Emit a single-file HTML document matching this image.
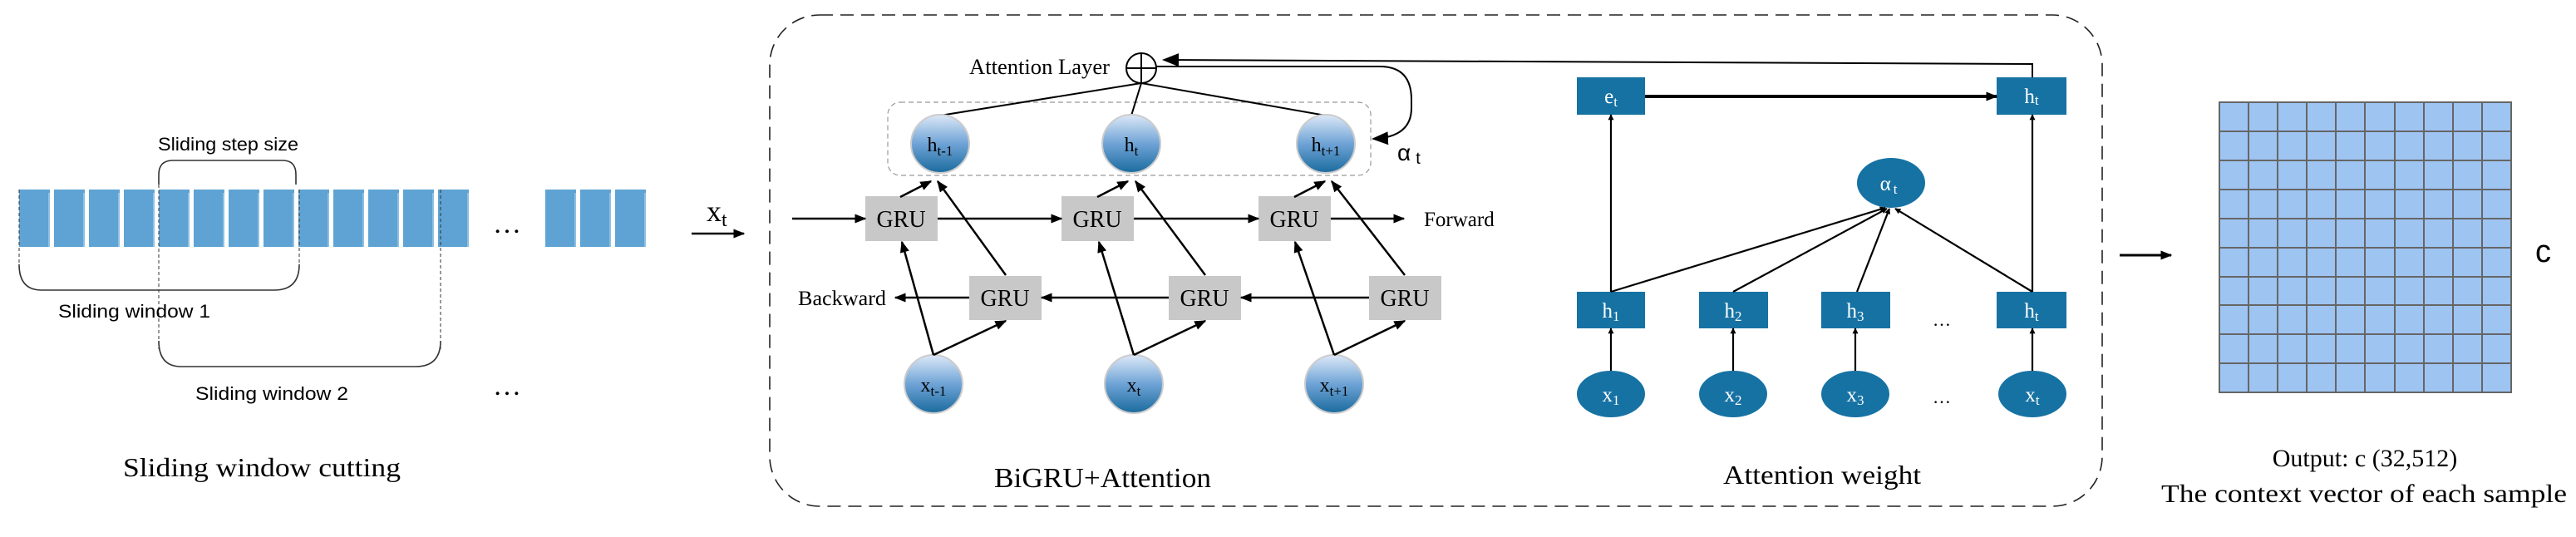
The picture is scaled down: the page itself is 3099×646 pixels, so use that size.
<!DOCTYPE html>
<html><head><meta charset="utf-8"><style>
html,body{margin:0;padding:0;background:#fff;}
svg{display:block;}
.sr{font-family:"Liberation Serif",serif;}
.ss{font-family:"Liberation Sans",sans-serif;}
</style></head><body>
<svg width="3099" height="646" viewBox="0 0 3099 646" xmlns="http://www.w3.org/2000/svg">
<defs>
<linearGradient id="cg" x1="0" y1="0" x2="0" y2="1">
<stop offset="0" stop-color="#dce8f7"/><stop offset="0.5" stop-color="#6fa3d6"/><stop offset="1" stop-color="#1a6b9e"/>
</linearGradient>
<marker id="ah" viewBox="0 0 10 10" refX="9" refY="5" markerWidth="7" markerHeight="7" orient="auto" markerUnits="userSpaceOnUse"><path d="M0,0 L10,5 L0,10 z" fill="#000"/></marker>
<marker id="a2" viewBox="0 0 10 10" refX="9" refY="5" markerWidth="20" markerHeight="20" orient="auto" markerUnits="userSpaceOnUse"><path d="M0,1 L10,5 L0,9 z" fill="#000"/></marker>
<marker id="a3" viewBox="0 0 10 10" refX="9" refY="5" markerWidth="14" markerHeight="14" orient="auto" markerUnits="userSpaceOnUse"><path d="M0,1 L10,5 L0,9 z" fill="#000"/></marker>
</defs>

<g fill="#5ea3d3">
<rect x="23" y="228" width="37" height="69"/><rect x="65" y="228" width="37" height="69"/><rect x="107" y="228" width="37" height="69"/><rect x="149" y="228" width="37" height="69"/><rect x="191" y="228" width="37" height="69"/><rect x="233" y="228" width="37" height="69"/><rect x="275" y="228" width="37" height="69"/><rect x="317" y="228" width="37" height="69"/><rect x="359" y="228" width="37" height="69"/><rect x="401" y="228" width="37" height="69"/><rect x="443" y="228" width="37" height="69"/><rect x="485" y="228" width="37" height="69"/><rect x="527" y="228" width="37" height="69"/>
<rect x="656" y="228" width="37" height="69"/><rect x="698" y="228" width="37" height="69"/><rect x="740" y="228" width="37" height="69"/>
</g>
<g fill="#8fc0e3">
<rect x="58" y="232" width="2" height="65"/><rect x="100" y="232" width="2" height="65"/><rect x="142" y="232" width="2" height="65"/><rect x="184" y="232" width="2" height="65"/><rect x="226" y="232" width="2" height="65"/><rect x="268" y="232" width="2" height="65"/><rect x="310" y="232" width="2" height="65"/><rect x="352" y="232" width="2" height="65"/><rect x="394" y="232" width="2" height="65"/><rect x="436" y="232" width="2" height="65"/><rect x="478" y="232" width="2" height="65"/><rect x="520" y="232" width="2" height="65"/><rect x="562" y="232" width="2" height="65"/><rect x="691" y="232" width="2" height="65"/><rect x="733" y="232" width="2" height="65"/><rect x="775" y="232" width="2" height="65"/>
</g>
<text x="593" y="280" class="sr" font-size="34">…</text>
<g fill="none" stroke="#333" stroke-width="1" stroke-dasharray="4,3">
<line x1="23" y1="228" x2="23" y2="320"/><line x1="191" y1="222" x2="191" y2="420"/><line x1="360" y1="228" x2="360" y2="320"/><line x1="530" y1="228" x2="530" y2="420"/>
</g>
<g fill="none" stroke="#333" stroke-width="1.6">
<path d="M191,222 L191,210 Q191,193 208,193 L340,193 Q356,193 356,210 L356,222"/>
<path d="M23,318 Q23,349 50,349 L330,349 Q360,349 360,318"/>
<path d="M191,410 Q191,441 218,441 L500,441 Q530,441 530,410"/>
</g>
<text x="190" y="181" class="ss" font-size="22" textLength="169" lengthAdjust="spacingAndGlyphs">Sliding step size</text>
<text x="70" y="382" class="ss" font-size="22" textLength="183" lengthAdjust="spacingAndGlyphs">Sliding window 1</text>
<text x="235" y="481" class="ss" font-size="22" textLength="184" lengthAdjust="spacingAndGlyphs">Sliding window 2</text>
<text x="593" y="475" class="sr" font-size="34">…</text>
<text x="148" y="573" class="sr" font-size="32" textLength="334" lengthAdjust="spacingAndGlyphs">Sliding window cutting</text>

<text x="850" y="266" class="sr" font-size="36">x<tspan font-size="24" dy="6">t</tspan></text>
<line x1="832" y1="281" x2="895" y2="281" stroke="#000" stroke-width="2.5" marker-end="url(#a3)"/>

<rect x="926" y="18" width="1603" height="591" rx="60" ry="60" fill="none" stroke="#222" stroke-width="1.6" stroke-dasharray="16,9"/>

<text x="1166" y="89" class="sr" font-size="26" textLength="169" lengthAdjust="spacingAndGlyphs">Attention Layer</text>
<circle cx="1373" cy="82" r="18" fill="none" stroke="#000" stroke-width="2"/>
<line x1="1355" y1="82" x2="1391" y2="82" stroke="#000" stroke-width="2"/>
<line x1="1373" y1="64" x2="1373" y2="100" stroke="#000" stroke-width="2"/>
<path d="M1391,80 L1660,80 Q1698,80 1698,120 L1698,130 Q1698,165 1652,167" fill="none" stroke="#000" stroke-width="2" marker-end="url(#a2)"/>
<text x="1681" y="193" class="ss" font-size="28">α<tspan font-size="20" dx="6" dy="4">t</tspan></text>
<rect x="1068" y="123" width="581" height="88" rx="15" fill="none" stroke="#999" stroke-width="1.2" stroke-dasharray="6,4"/>
<g stroke="#000" stroke-width="2">
<line x1="1373" y1="100" x2="1131" y2="139"/><line x1="1373" y1="100" x2="1361" y2="139"/><line x1="1373" y1="100" x2="1595" y2="139"/>
</g>
<g fill="url(#cg)" stroke="#ccc" stroke-width="2">
<circle cx="1131" cy="173" r="35"/><circle cx="1361" cy="173" r="35"/><circle cx="1595" cy="173" r="35"/>
<circle cx="1123" cy="462" r="35"/><circle cx="1364" cy="462" r="35"/><circle cx="1605" cy="462" r="35"/>
</g>
<g class="sr" font-size="24" fill="#000" text-anchor="middle">
<text x="1131" y="182">h<tspan font-size="17" dy="5">t-1</tspan></text>
<text x="1361" y="182">h<tspan font-size="17" dy="5">t</tspan></text>
<text x="1595" y="182">h<tspan font-size="17" dy="5">t+1</tspan></text>
<text x="1123" y="471">x<tspan font-size="17" dy="5">t-1</tspan></text>
<text x="1364" y="471">x<tspan font-size="17" dy="5">t</tspan></text>
<text x="1605" y="471">x<tspan font-size="17" dy="5">t+1</tspan></text>
</g>
<g fill="#c8c8c8">
<rect x="1041" y="236" width="87" height="54"/><rect x="1277" y="236" width="87" height="54"/><rect x="1514" y="236" width="87" height="54"/>
<rect x="1166" y="332" width="87" height="53"/><rect x="1406" y="332" width="87" height="53"/><rect x="1647" y="332" width="87" height="53"/>
</g>
<g class="sr" font-size="28" text-anchor="middle" fill="#000">
<text x="1084" y="273">GRU</text><text x="1320" y="273">GRU</text><text x="1557" y="273">GRU</text>
<text x="1209" y="368">GRU</text><text x="1449" y="368">GRU</text><text x="1690" y="368">GRU</text>
</g>
<g stroke="#000" stroke-width="2.5" fill="none" marker-end="url(#a3)">
<line x1="953" y1="263" x2="1041" y2="263"/><line x1="1128" y1="263" x2="1277" y2="263"/><line x1="1364" y1="263" x2="1514" y2="263"/><line x1="1601" y1="263" x2="1689" y2="263"/>
<line x1="1166" y1="358" x2="1077" y2="358"/><line x1="1406" y1="358" x2="1253" y2="358"/><line x1="1647" y1="358" x2="1493" y2="358"/>
</g>
<text x="1713" y="272" class="sr" font-size="25">Forward</text>
<text x="960" y="367" class="sr" font-size="25" textLength="106" lengthAdjust="spacingAndGlyphs">Backward</text>
<g stroke="#000" stroke-width="2.5" fill="none" marker-end="url(#a3)">
<line x1="1123" y1="427" x2="1085" y2="291"/><line x1="1123" y1="427" x2="1210" y2="386"/>
<line x1="1364" y1="427" x2="1322" y2="291"/><line x1="1364" y1="427" x2="1450" y2="386"/>
<line x1="1605" y1="427" x2="1558" y2="291"/><line x1="1605" y1="427" x2="1690" y2="386"/>
<line x1="1083" y1="237" x2="1120" y2="218"/><line x1="1210" y1="331" x2="1128" y2="218"/>
<line x1="1320" y1="237" x2="1357" y2="218"/><line x1="1450" y1="331" x2="1366" y2="218"/>
<line x1="1557" y1="237" x2="1594" y2="218"/><line x1="1690" y1="331" x2="1602" y2="218"/>
</g>
<text x="1196" y="586" class="sr" font-size="34" textLength="261" lengthAdjust="spacingAndGlyphs">BiGRU+Attention</text>

<path d="M2445,93 L2445,77 L1400,72" fill="none" stroke="#000" stroke-width="2" marker-end="url(#a2)"/>
<g fill="#1672a3">
<rect x="1897" y="93" width="82" height="45"/><rect x="2402" y="93" width="84" height="45"/>
<rect x="1897" y="351" width="82" height="44"/><rect x="2044" y="351" width="83" height="44"/><rect x="2191" y="351" width="83" height="44"/><rect x="2402" y="351" width="84" height="44"/>
<ellipse cx="1938" cy="474" rx="41" ry="28"/><ellipse cx="2085" cy="474" rx="41" ry="28"/><ellipse cx="2232" cy="474" rx="41" ry="28"/><ellipse cx="2445" cy="474" rx="41" ry="28"/>
<ellipse cx="2275" cy="220" rx="41" ry="30"/>
</g>
<line x1="1979" y1="116" x2="2402" y2="116" stroke="#000" stroke-width="4" marker-end="url(#a3)"/>
<g stroke="#000" stroke-width="2.2" fill="none" marker-end="url(#ah)">
<line x1="1938" y1="351" x2="1938" y2="138"/><line x1="2445" y1="351" x2="2445" y2="138"/>
<line x1="1938" y1="446" x2="1938" y2="395"/><line x1="2085" y1="446" x2="2085" y2="395"/><line x1="2232" y1="446" x2="2232" y2="395"/><line x1="2445" y1="446" x2="2445" y2="395"/>
<line x1="1938" y1="351" x2="2268" y2="250"/><line x1="2085" y1="351" x2="2270" y2="251"/><line x1="2234" y1="351" x2="2273" y2="251"/><line x1="2445" y1="351" x2="2280" y2="251"/>
</g>
<g class="sr" font-size="25" fill="#fff" text-anchor="middle">
<text x="1938" y="124">e<tspan font-size="17" dy="4">t</tspan></text>
<text x="2444" y="124">h<tspan font-size="17" dy="2">t</tspan></text>
<text x="1938" y="382">h<tspan font-size="17" dy="4">1</tspan></text>
<text x="2085" y="382">h<tspan font-size="17" dy="4">2</tspan></text>
<text x="2232" y="382">h<tspan font-size="17" dy="4">3</tspan></text>
<text x="2444" y="382">h<tspan font-size="17" dy="4">t</tspan></text>
<text x="1938" y="483">x<tspan font-size="17" dy="4">1</tspan></text>
<text x="2085" y="483">x<tspan font-size="17" dy="4">2</tspan></text>
<text x="2232" y="483">x<tspan font-size="17" dy="4">3</tspan></text>
<text x="2445" y="483">x<tspan font-size="17" dy="4">t</tspan></text>
<text x="2272" y="229">α<tspan font-size="17" dx="3" dy="4">t</tspan></text>
</g>
<text x="2325" y="392" class="sr" font-size="22">…</text>
<text x="2325" y="485" class="sr" font-size="22">…</text>
<text x="2073" y="582" class="sr" font-size="32" textLength="238" lengthAdjust="spacingAndGlyphs">Attention weight</text>

<line x1="2550" y1="307" x2="2612" y2="307" stroke="#000" stroke-width="3" marker-end="url(#a3)"/>
<rect x="2670" y="123" width="351" height="349" fill="#9ec4f2" stroke="#666" stroke-width="2"/>
<g stroke="#666" stroke-width="2">
<line x1="2705" y1="123" x2="2705" y2="472"/><line x1="2740" y1="123" x2="2740" y2="472"/><line x1="2775" y1="123" x2="2775" y2="472"/><line x1="2810" y1="123" x2="2810" y2="472"/><line x1="2845" y1="123" x2="2845" y2="472"/><line x1="2881" y1="123" x2="2881" y2="472"/><line x1="2916" y1="123" x2="2916" y2="472"/><line x1="2951" y1="123" x2="2951" y2="472"/><line x1="2986" y1="123" x2="2986" y2="472"/>
<line x1="2670" y1="158" x2="3021" y2="158"/><line x1="2670" y1="193" x2="3021" y2="193"/><line x1="2670" y1="228" x2="3021" y2="228"/><line x1="2670" y1="263" x2="3021" y2="263"/><line x1="2670" y1="298" x2="3021" y2="298"/><line x1="2670" y1="333" x2="3021" y2="333"/><line x1="2670" y1="367" x2="3021" y2="367"/><line x1="2670" y1="402" x2="3021" y2="402"/><line x1="2670" y1="437" x2="3021" y2="437"/>
</g>
<text x="3050" y="315" class="ss" font-size="38">c</text>
<text x="2845" y="561" class="sr" font-size="30" text-anchor="middle">Output: c (32,512)</text>
<text x="2600" y="604" class="sr" font-size="31" textLength="488" lengthAdjust="spacingAndGlyphs">The context vector of each sample</text>
</svg>
</body></html>
